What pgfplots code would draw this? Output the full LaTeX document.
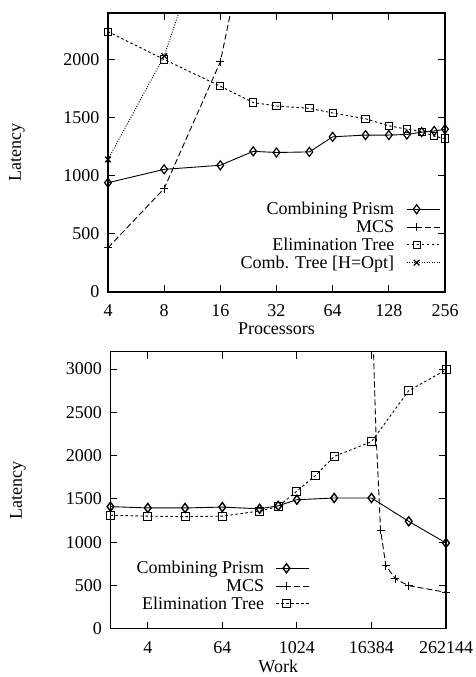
\documentclass[border=0pt]{standalone}
\usepackage{fontspec}
\setmainfont{Liberation Serif}
\usepackage{pgfplots}
\pgfplotsset{compat=1.18}

\newcommand{\bigf}{\fontsize{18}{20}\selectfont}

\pgfplotsset{
  legend image code/.code={\draw[#1, mark indices={2}] plot coordinates {(0pt,0pt) (10pt,0pt) (33pt,0pt)};},
}

\begin{document}
\begin{tikzpicture}
\path[use as bounding box] (0pt,0pt) rectangle (476pt,677pt);

% top: latency vs processors
\begin{axis}[
  scale only axis,
  at={(108pt,385pt)}, anchor=south west,
  width=337pt, height=279pt,
  xmode=log, log basis x=2,
  xmin=4, xmax=256, ymin=0, ymax=2400,
  xtick={4,8,16,32,64,128,256}, xticklabels={4,8,16,32,64,128,256},
  ytick={0,500,1000,1500,2000},
  xminorticks=false, yminorticks=false,
  tick align=inside, major tick length=7pt,
  major tick style={line width=1pt, black},
  axis line style={line width=1.3pt},
  yticklabel style={/pgf/number format/1000 sep={}, /pgf/number format/assume math mode=true, font=\bigf, xshift=-5pt},
  xticklabel style={font=\bigf, yshift=-9pt},
  xlabel={Processors}, ylabel={Latency},
  label style={font=\bigf},
  xlabel style={at={(axis description cs:0.5,-0.133)}, anchor=center},
  ylabel style={at={(axis description cs:-0.27,0.5)}, anchor=center},
  legend style={draw=none, fill=none, font=\bigf, row sep=0pt, column sep=10pt,
    at={(axis description cs:0.995,0.065)}, anchor=south east},
  legend cell align=right,
  legend plot pos=right,
]
\addplot[black, line width=0.9pt, mark=diamond, mark size=4.5pt, mark options={solid, line width=1.2pt}] coordinates {
  (4,940) (8,1055) (16,1090) (24,1210) (32,1200) (48,1205) (64,1335)
  (96,1350) (128,1350) (160,1355) (192,1375) (224,1385) (256,1400)};
\addlegendentry{Combining Prism}
\addplot[black, line width=0.9pt, dash pattern=on 6pt off 3pt, mark=+, mark size=4pt, mark options={solid}, mark indices={1,2,3}] coordinates {
  (4,380) (8,890) (16,1980) (32,4300)};
\addlegendentry{MCS}
\addplot[black, line width=0.9pt, dash pattern=on 2.5pt off 2.5pt, mark=square, mark size=3.6pt, mark options={solid}] coordinates {
  (4,2240) (8,2000) (16,1770) (24,1630) (32,1600) (48,1580) (64,1540)
  (96,1490) (128,1430) (160,1400) (192,1380) (224,1340) (256,1320)};
\addlegendentry{Elimination Tree}
\addplot[black, line width=0.9pt, dash pattern=on 1pt off 1.5pt, mark=x, mark size=4pt, mark options={solid, line width=1.2pt}, mark indices={1,2}] coordinates {
  (4,1140) (8,2030) (16,3450)};
\addlegendentry{Comb. Tree [H=Opt]}
\end{axis}

% bottom: latency vs work
\begin{axis}[
  scale only axis,
  at={(110.5pt,48.3pt)}, anchor=south west,
  width=335.5pt, height=277pt,
  xmode=log, log basis x=2,
  xmin=1, xmax=262144, ymin=0, ymax=3200,
  xtick={4,64,1024,16384,262144}, xticklabels={4,64,1024,16384,262144},
  ytick={0,500,1000,1500,2000,2500,3000},
  xminorticks=false, yminorticks=false,
  tick align=inside, major tick length=7pt,
  major tick style={line width=1pt, black},
  axis line style={line width=1.3pt},
  yticklabel style={/pgf/number format/1000 sep={}, /pgf/number format/assume math mode=true, font=\bigf, xshift=-5pt},
  xticklabel style={font=\bigf, yshift=-9pt},
  xlabel={Work}, ylabel={Latency},
  label style={font=\bigf},
  xlabel style={at={(axis description cs:0.5,-0.137)}, anchor=center},
  ylabel style={at={(axis description cs:-0.276,0.5)}, anchor=center},
  legend style={draw=none, fill=none, font=\bigf, row sep=0pt, column sep=10pt,
    at={(axis description cs:0.604,0.05)}, anchor=south east},
  legend cell align=right,
  legend plot pos=right,
]
\addplot[black, line width=0.9pt, mark=diamond, mark size=4.5pt, mark options={solid, line width=1.4pt}] coordinates {
  (1,1410) (4,1395) (16,1395) (64,1405) (256,1385) (512,1420) (1024,1490)
  (4096,1510) (16384,1510) (65536,1240) (262144,990)};
\addlegendentry{Combining Prism}
\addplot[black, line width=0.9pt, dash pattern=on 6pt off 3pt, mark=+, mark size=4pt, mark options={solid}, mark indices={2,3,4,5,6,7}] coordinates {
  (16384,4000) (19300,2300) (23000,1140) (28000,730) (40000,575)
  (65536,497) (262144,421)};
\addlegendentry{MCS}
\addplot[black, line width=0.9pt, dash pattern=on 2.5pt off 2.5pt, mark=square, mark size=4pt, mark options={solid}] coordinates {
  (1,1310) (4,1300) (16,1295) (64,1300) (256,1360) (512,1410) (1024,1590)
  (2048,1770) (4096,1990) (16384,2160) (65536,2750) (262144,2990)};
\addlegendentry{Elimination Tree}
\end{axis}
\end{tikzpicture}
\end{document}
